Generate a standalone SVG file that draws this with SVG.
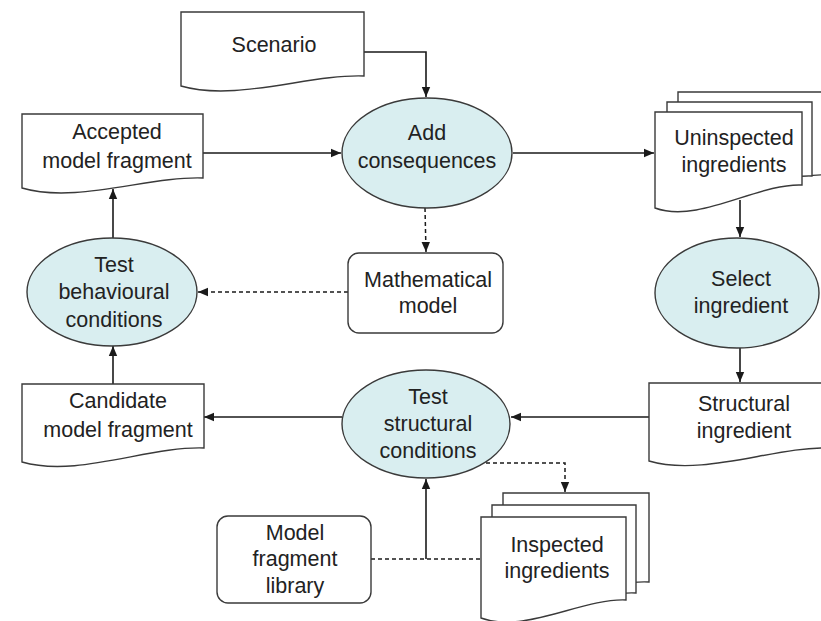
<svg xmlns="http://www.w3.org/2000/svg" width="821" height="621" viewBox="0 0 821 621">
  <defs>
    <marker id="arrow" markerUnits="userSpaceOnUse" markerWidth="10" markerHeight="10" viewBox="0 0 10 10" refX="10" refY="5" orient="auto">
      <path d="M0,0.8 L10,5 L0,9.2 Z" fill="#1a1a1a"/>
    </marker>
    <style>
      .doc { fill: #ffffff; stroke: #3a3a3a; stroke-width: 1.4; }
      .proc { fill: #d9eef0; stroke: #3a3a3a; stroke-width: 1.4; }
      .store { fill: #ffffff; stroke: #3a3a3a; stroke-width: 1.4; }
      .lbl { font-family: "Liberation Sans", Arial, Helvetica, sans-serif; font-size: 21.5px; fill: #222222; text-anchor: middle; }
      .flow { fill: none; stroke: #1a1a1a; stroke-width: 1.6; }
      .dash { fill: none; stroke: #1a1a1a; stroke-width: 1.5; stroke-dasharray: 4 3; }
    </style>
  </defs>

  <rect width="821" height="621" fill="#ffffff"/>

  <!-- connectors -->
  <g id="connectors">
    <path class="flow" d="M364,52 H426 V97" marker-end="url(#arrow)"/>
    <path class="flow" d="M203,153 H341" marker-end="url(#arrow)"/>
    <path class="flow" d="M513,153 H654" marker-end="url(#arrow)"/>
    <path class="flow" d="M740,200 V237" marker-end="url(#arrow)"/>
    <path class="flow" d="M740,348 V382" marker-end="url(#arrow)"/>
    <path class="flow" d="M649,417 H511" marker-end="url(#arrow)"/>
    <path class="flow" d="M342,417 H204" marker-end="url(#arrow)"/>
    <path class="flow" d="M113,384 V346" marker-end="url(#arrow)"/>
    <path class="flow" d="M113,238 V189" marker-end="url(#arrow)"/>
    <path class="dash" d="M425,208 L426,252" marker-end="url(#arrow)"/>
    <path class="dash" d="M348,292 H198" marker-end="url(#arrow)"/>
    <path class="dash" d="M486,463 H565 V492" marker-end="url(#arrow)"/>
    <path class="dash" d="M371,559 H481"/>
    <path class="flow" d="M426,559 V479" marker-end="url(#arrow)"/>
  </g>

  <!-- Scenario (document) -->
  <g id="scenario">
    <path class="doc" d="M181,12 H364 V76 C309,74 236,102 181,86 Z"/>
    <text class="lbl" x="274" y="52">Scenario</text>
  </g>

  <!-- Add consequences (process) -->
  <g id="add-consequences">
    <ellipse class="proc" cx="427" cy="153" rx="85" ry="55"/>
    <text class="lbl" x="427" y="140">Add</text>
    <text class="lbl" x="427" y="168">consequences</text>
  </g>

  <!-- Accepted model fragment (document) -->
  <g id="accepted-model-fragment">
    <path class="doc" d="M22,114 H203 V178 C149,176 76,204 22,188 Z"/>
    <text class="lbl" x="117" y="139">Accepted</text>
    <text class="lbl" x="117" y="168">model fragment</text>
  </g>

  <!-- Uninspected ingredients (stacked documents) -->
  <g id="uninspected-ingredients">
    <path class="doc" d="M678,92 H830 V175 C780,173 720,198 678,188 Z"/>
    <path class="doc" d="M667,102 H812 V176 C768,174 710,210 667,198 Z"/>
    <path class="doc" d="M655,112 H802 V185 C758,183 699,224 655,208 Z"/>
    <text class="lbl" x="734" y="145">Uninspected</text>
    <text class="lbl" x="734" y="172">ingredients</text>
  </g>

  <!-- Test behavioural conditions (process) -->
  <g id="test-behavioural-conditions">
    <ellipse class="proc" cx="112" cy="292" rx="85" ry="54"/>
    <text class="lbl" x="114" y="272">Test</text>
    <text class="lbl" x="114" y="299">behavioural</text>
    <text class="lbl" x="114" y="327">conditions</text>
  </g>

  <!-- Mathematical model (store) -->
  <g id="mathematical-model">
    <rect class="store" x="348" y="253" width="155" height="80" rx="11"/>
    <text class="lbl" x="428" y="287">Mathematical</text>
    <text class="lbl" x="428" y="313">model</text>
  </g>

  <!-- Select ingredient (process) -->
  <g id="select-ingredient">
    <ellipse class="proc" cx="737" cy="293" rx="82" ry="55"/>
    <text class="lbl" x="741" y="286">Select</text>
    <text class="lbl" x="741" y="313">ingredient</text>
  </g>

  <!-- Candidate model fragment (document) -->
  <g id="candidate-model-fragment">
    <path class="doc" d="M22,384 H204 V448 C149,446 77,478 22,462 Z"/>
    <text class="lbl" x="118" y="408">Candidate</text>
    <text class="lbl" x="118" y="437">model fragment</text>
  </g>

  <!-- Test structural conditions (process) -->
  <g id="test-structural-conditions">
    <ellipse class="proc" cx="426" cy="424" rx="84" ry="54"/>
    <text class="lbl" x="428" y="404">Test</text>
    <text class="lbl" x="428" y="431">structural</text>
    <text class="lbl" x="428" y="458">conditions</text>
  </g>

  <!-- Structural ingredient (document) -->
  <g id="structural-ingredient">
    <path class="doc" d="M649,383 H830 V448 C776,446 703,477 649,461 Z"/>
    <text class="lbl" x="744" y="411">Structural</text>
    <text class="lbl" x="744" y="438">ingredient</text>
  </g>

  <!-- Model fragment library (store) -->
  <g id="model-fragment-library">
    <rect class="store" x="217" y="516" width="154" height="87" rx="11"/>
    <text class="lbl" x="295" y="540">Model</text>
    <text class="lbl" x="295" y="566">fragment</text>
    <text class="lbl" x="295" y="593">library</text>
  </g>

  <!-- Inspected ingredients (stacked documents) -->
  <g id="inspected-ingredients">
    <path class="doc" d="M503,493 H649 V582 C605,580 545,606 503,596 Z"/>
    <path class="doc" d="M492,505 H636 V593 C594,591 535,618 492,607 Z"/>
    <path class="doc" d="M481,517 H626 V600 C582,598 525,634 481,618 Z"/>
    <text class="lbl" x="557" y="552">Inspected</text>
    <text class="lbl" x="557" y="578">ingredients</text>
  </g>
</svg>
